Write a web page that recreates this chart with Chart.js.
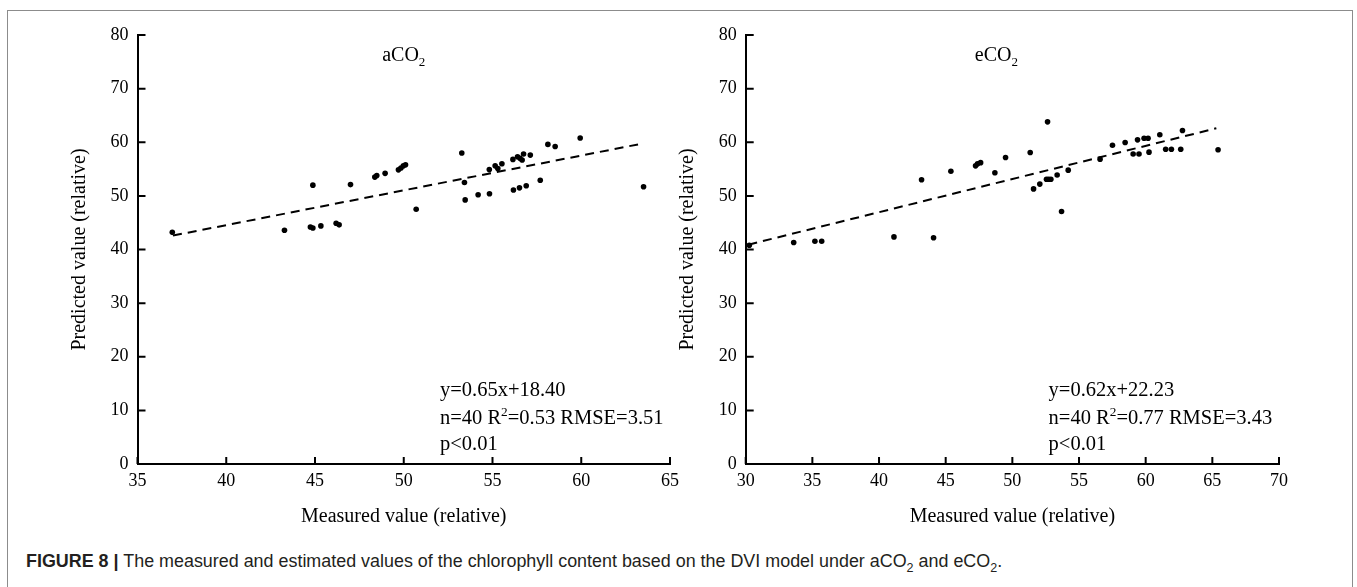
<!DOCTYPE html>
<html>
<head>
<meta charset="utf-8">
<script src="https://cdn.jsdelivr.net/npm/chart.js@4.4.1/dist/chart.umd.min.js"></script>
<style>
  body { margin: 0; background: #fff; width: 1357px; height: 587px; overflow: hidden; position: relative; }
  .frame { position: absolute; left: 7px; top: 10px; width: 1346px; height: 620px; border: 1.5px solid #8c8c8c; box-sizing: border-box; }
  .box { position: absolute; top: 0; height: 540px; }
  #boxA { left: 0; width: 690px; }
  #boxE { left: 640px; width: 717px; }
  #caption { position: absolute; left: 26px; top: 551px; line-height: 20px; font-family: "Liberation Sans", Arial, sans-serif; font-size: 15px; color: #231f20; white-space: nowrap; }
  #caption b { font-weight: bold; }
</style>
</head>
<body>
<div class="frame"></div>
<div class="box" id="boxA"><canvas id="chartA" width="690" height="540"></canvas></div>
<div class="box" id="boxE"><canvas id="chartE" width="717" height="540"></canvas></div>
<div id="caption"><b>FIGURE 8 |</b> The measured and estimated values of the chlorophyll content based on the DVI model under aCO<sub style="font-size:70%">2</sub> and eCO<sub style="font-size:70%">2</sub>.</div>

<script>
// aCO2 panel
const measuredA = [36.96, 43.28, 44.88, 44.74, 44.88, 45.33, 46.19, 46.36, 47.0, 48.37, 48.48, 48.95, 49.7, 49.84, 49.98, 50.1, 50.7, 53.27, 53.42, 53.46, 54.19, 54.83, 54.82, 55.15, 55.3, 55.53, 56.18, 56.52, 56.9, 56.15, 56.41, 56.55, 56.67, 56.75, 57.13, 57.69, 58.12, 58.53, 59.94, 63.51]
const predictedA = [43.2, 43.6, 52.0, 44.2, 44.0, 44.4, 44.9, 44.6, 52.1, 53.5, 53.8, 54.2, 54.85, 55.2, 55.6, 55.8, 47.5, 58.0, 52.5, 49.25, 50.2, 50.4, 54.9, 55.6, 55.1, 56.0, 51.1, 51.5, 51.9, 56.8, 57.3, 57.0, 56.7, 57.8, 57.6, 52.9, 59.6, 59.2, 60.8, 51.7]
const fitXA = [37.0, 63.2]
const fitYA = [42.6, 59.6]
const xTicksA = [35, 40, 45, 50, 55, 60, 65]
const statsA = ["y=0.65x+18.40", "n=40 R^2=0.53 RMSE=3.51", "p<0.01"]

// eCO2 panel
const measuredE = [30.27, 33.6, 35.19, 35.7, 41.12, 43.19, 44.09, 45.39, 47.24, 47.39, 47.62, 48.69, 49.49, 51.34, 51.59, 52.06, 52.56, 52.72, 52.89, 52.64, 53.36, 53.69, 54.19, 56.58, 57.51, 58.46, 59.06, 59.5, 59.39, 59.88, 60.18, 60.25, 61.06, 61.5, 61.93, 62.63, 62.76, 65.43]
const predictedE = [40.8, 41.3, 41.55, 41.55, 42.35, 53.0, 42.2, 54.6, 55.6, 55.97, 56.2, 54.3, 57.15, 58.1, 51.3, 52.2, 53.1, 53.1, 53.1, 63.8, 53.9, 47.1, 54.8, 56.85, 59.45, 59.95, 57.8, 57.8, 60.45, 60.75, 60.75, 58.15, 61.4, 58.7, 58.7, 58.7, 62.2, 58.6]
const fitXE = [30.2, 65.3]
const fitYE = [40.9, 62.6]
const xTicksE = [30, 35, 40, 45, 50, 55, 60, 65, 70]
const statsE = ["y=0.62x+22.23", "n=40 R^2=0.77 RMSE=3.43", "p<0.01"]

const yTicks = [0, 10, 20, 30, 40, 50, 60, 70, 80]

const serif = "'Liberation Serif', 'Times New Roman', serif"

// draws text where ^2 is superscript and _2 is subscript
function drawRich(ctx, str, x, y, size, align) {
  const parts = str.split(/([_^]\d)/).filter(p => p !== "")
  const small = size * 0.65
  let total = 0
  parts.forEach(p => {
    const script = p[0] === "^" || p[0] === "_"
    ctx.font = `${script ? small : size}px ${serif}`
    total += ctx.measureText(script ? p.slice(1) : p).width
  })
  let cx = align === "center" ? x - total / 2 : x
  ctx.textAlign = "left"
  ctx.textBaseline = "alphabetic"
  parts.forEach(p => {
    if (p[0] === "^" || p[0] === "_") {
      ctx.font = `${small}px ${serif}`
      const dy = p[0] === "^" ? -size * 0.4 : size * 0.22
      ctx.fillText(p.slice(1), cx, y + dy)
      cx += ctx.measureText(p.slice(1)).width
    } else {
      ctx.font = `${size}px ${serif}`
      ctx.fillText(p, cx, y)
      cx += ctx.measureText(p).width
    }
  })
}

const decor = {
  id: "decor",
  afterDraw(chart, args, opts) {
    const { ctx, chartArea: a, scales: { x, y } } = chart
    ctx.save()
    ctx.strokeStyle = "#000"
    ctx.lineWidth = 2
    ctx.beginPath()
    x.ticks.forEach((t, i) => {
      const px = x.getPixelForTick(i)
      ctx.moveTo(px, a.bottom)
      ctx.lineTo(px, a.bottom - 7)
    })
    y.ticks.forEach((t, i) => {
      const py = y.getPixelForTick(i)
      ctx.moveTo(a.left, py)
      ctx.lineTo(a.left + 8, py)
    })
    ctx.stroke()

    ctx.fillStyle = "#000"
    const h = a.bottom - a.top
    const w = a.right - a.left
    drawRich(ctx, opts.title, a.left + w * opts.titleX, a.top + h * 0.061, 20, "center")
    const rows = [0.8415, 0.9068, 0.9674]
    opts.stats.forEach((line, i) => {
      drawRich(ctx, line, a.left + w * 0.568, a.top + h * rows[i], 20.5, "left")
    })
    ctx.restore()
  }
}

function makeChart(id, xs, ys, fx, fy, xTicks, cfg) {
  const points = xs.map((v, i) => ({ x: v, y: ys[i] }))
  const fitLine = fx.map((v, i) => ({ x: v, y: fy[i] }))
  return new Chart(document.getElementById(id), {
    type: "scatter",
    data: {
      datasets: [
        {
          data: points,
          pointRadius: 2.8,
          pointHoverRadius: 2.8,
          pointBackgroundColor: "#000",
          pointBorderWidth: 0
        },
        {
          type: "line",
          data: fitLine,
          borderColor: "#000",
          borderWidth: 2,
          borderDash: [9, 6],
          pointRadius: 0,
          fill: false
        }
      ]
    },
    options: {
      responsive: false,
      animation: false,
      events: [],
      layout: { padding: { top: 35, right: cfg.padRight, left: 0, bottom: 0 } },
      plugins: {
        legend: { display: false },
        tooltip: { enabled: false },
        decor: { title: cfg.title, titleX: cfg.titleX, stats: cfg.stats }
      },
      scales: {
        x: {
          type: "linear",
          min: xTicks[0],
          max: xTicks[xTicks.length - 1],
          ticks: { stepSize: xTicks[1] - xTicks[0], color: "#000", padding: 6, maxRotation: 0, font: { family: serif, size: 18 } },
          grid: { display: false, drawTicks: false },
          border: { display: true, color: "#000", width: 2 },
          title: { display: true, text: "Measured value (relative)", color: "#000", font: { family: serif, size: 20 }, padding: { top: 0, bottom: 11 } },
          afterFit: s => { s.height = 76 }
        },
        y: {
          type: "linear",
          min: yTicks[0],
          max: yTicks[yTicks.length - 1],
          ticks: { stepSize: yTicks[1] - yTicks[0], color: "#000", padding: 9, font: { family: serif, size: 18 } },
          grid: { display: false, drawTicks: false },
          border: { display: true, color: "#000", width: 2 },
          title: { display: true, text: "Predicted value (relative)", color: "#000", font: { family: serif, size: 20 }, padding: { top: cfg.titlePad, bottom: 0 } },
          afterFit: s => { s.width = cfg.axisWidth }
        }
      }
    },
    plugins: [decor]
  })
}

makeChart("chartA", measuredA, predictedA, fitXA, fitYA, xTicksA,
  { padRight: 20, axisWidth: 137.5, titlePad: 68, title: "aCO_2", titleX: 0.5, stats: statsA })
makeChart("chartE", measuredE, predictedE, fitXE, fitYE, xTicksE,
  { padRight: 78, axisWidth: 105.7, titlePad: 36, title: "eCO_2", titleX: 0.47, stats: statsE })

// stretch caption to the width it has in the figure
const cap = document.getElementById("caption")
const cw = cap.getBoundingClientRect().width
cap.style.fontSize = (15 * 977 / cw).toFixed(2) + "px"
</script>
</body>
</html>
